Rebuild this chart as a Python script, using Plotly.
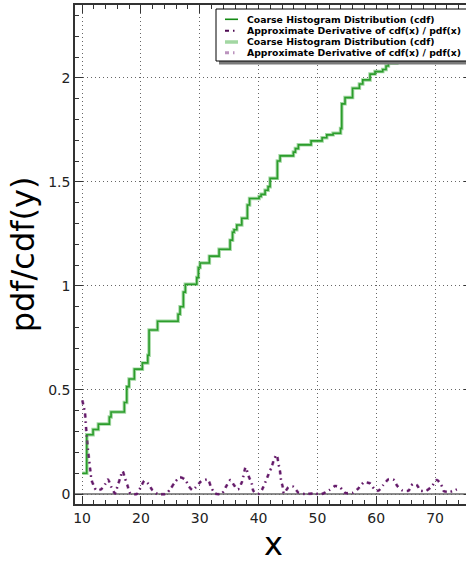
import plotly.graph_objects as go

# ---- data ----
cdf_x = [10.05, 10.80, 11.87, 12.77, 14.64, 14.93, 17.19, 17.60, 17.99, 18.89,
         20.25, 21.17, 21.39, 22.83, 26.32, 26.66, 27.22, 27.56, 29.50, 29.77,
         30.06, 31.64, 33.29, 35.16, 35.58, 35.84, 36.30, 37.15, 38.10, 38.47,
         40.09, 40.43, 41.11, 41.62, 41.96, 43.20, 43.66, 45.92, 46.26, 46.77,
         48.93, 50.80, 51.59, 52.67, 53.94, 54.14, 54.70, 55.98, 57.14, 57.71,
         58.95, 59.80, 61.11, 61.67, 62.07,
         63.5, 65.2, 67.0, 68.8, 70.5, 72.4, 74.0]
cdf_y = [0.10, 0.285, 0.31, 0.336, 0.37, 0.394, 0.44, 0.516, 0.553, 0.60,
         0.63, 0.667, 0.788, 0.83, 0.864, 0.90, 0.97, 1.008, 1.04, 1.088,
         1.11, 1.143, 1.176, 1.22, 1.258, 1.27, 1.293, 1.325, 1.389, 1.42,
         1.43, 1.44, 1.46, 1.477, 1.517, 1.60, 1.625, 1.643, 1.66, 1.678,
         1.697, 1.712, 1.726, 1.734, 1.757, 1.875, 1.905, 1.95, 1.97, 1.99,
         2.018, 2.03, 2.04, 2.057, 2.07,
         2.10, 2.13, 2.16, 2.19, 2.22, 2.25, 2.28]

pdf_x = [10.05, 10.2, 10.5, 10.6, 10.8, 11.07, 11.36, 11.53, 11.64, 12.0,
         12.38, 13.2, 13.9, 14.4, 15.0, 15.6, 16.0, 16.46, 16.9, 17.3,
         17.7, 18.2, 19.3, 20.0, 20.6, 21.3, 21.95, 22.8, 24.2, 25.1,
         25.7, 26.6, 27.5, 28.2, 28.75, 29.3, 30.2, 31.4, 31.9, 32.6,
         33.7, 34.4, 35.2, 35.7, 36.5, 37.2, 37.8, 38.3, 38.85, 39.1,
         39.9, 40.6, 41.2, 41.7, 42.24, 42.64, 43.1, 43.37, 43.66, 43.8,
         44.1, 44.3, 45.07, 45.9, 46.8, 47.9, 49.3, 50.7, 52.04, 53.0,
         53.85, 54.7, 56.0, 56.97, 57.9, 58.95, 59.8, 60.4, 61.2, 62.07,
         62.9, 63.6, 64.5, 65.5, 66.2, 66.9, 67.6, 68.5, 69.4, 70.3,
         71.0, 71.5, 72.6, 73.7]
pdf_y = [0.45, 0.43, 0.39, 0.35, 0.275, 0.196, 0.124, 0.083, 0.064, 0.04,
         0.019, 0.022, 0.046, 0.07, 0.032, 0.003, 0.035, 0.075, 0.11, 0.075,
         0.043, 0.003, 0.0, 0.035, 0.064, 0.048, 0.019, 0.001, 0.0, 0.027,
         0.054, 0.08, 0.07, 0.035, 0.019, 0.032, 0.06, 0.07, 0.035, 0.003,
         0.0, 0.032, 0.067, 0.048, 0.022, 0.06, 0.128, 0.087, 0.048, 0.016,
         0.0, 0.022, 0.06, 0.095, 0.131, 0.167, 0.1875, 0.147, 0.107, 0.07,
         0.035, 0.003, 0.032, 0.035, 0.006, 0.0, 0.003, 0.0, 0.019, 0.038,
         0.032, 0.006, 0.006, 0.027, 0.056, 0.051, 0.019, 0.016, 0.043, 0.07,
         0.07, 0.038, 0.016, 0.016, 0.048, 0.043, 0.016, 0.016, 0.035, 0.067,
         0.048, 0.014, 0.011, 0.022]

x_ticks = [10, 20, 30, 40, 50, 60, 70]
y_ticks = [0, 0.5, 1, 1.5, 2]
y_tick_text = ["0", "0.5", "1", "1.5", "2"]

name_cdf = "Coarse Histogram Distribution (cdf)"
name_pdf = "Approximate Derivative of cdf(x) / pdf(x)"
legend_names = [name_cdf, name_pdf, name_cdf, name_pdf]

# styles
DASHDOT = "4px,4px,1.5px,4px"
styles = [
    dict(color="#138a13", width=1.6),
    dict(color="#4e0a52", width=2, dash=DASHDOT),
    dict(color="rgba(70,175,70,0.5)", width=3.5),
    dict(color="rgba(120,40,125,0.5)", width=3, dash=DASHDOT),
]

fig = go.Figure()
fig.add_trace(go.Scatter(x=cdf_x, y=cdf_y, mode="lines", name=name_cdf,
                         line=dict(shape="hv", **styles[0])))
fig.add_trace(go.Scatter(x=pdf_x, y=pdf_y, mode="lines", name=name_pdf,
                         line=dict(shape="spline", smoothing=0.6, **styles[1])))
fig.add_trace(go.Scatter(x=cdf_x, y=cdf_y, mode="lines", name=name_cdf,
                         line=dict(shape="hv", **styles[2])))
fig.add_trace(go.Scatter(x=pdf_x, y=pdf_y, mode="lines", name=name_pdf,
                         line=dict(shape="spline", smoothing=0.6, **styles[3])))

fig.add_shape(type="line", xref="paper", yref="y", x0=0, x1=1, y0=0, y1=0,
              line=dict(color="#8c8c8c", width=2), layer="below")

# ---- legend drawn as a boxed key (matplotlib style, with shadow) ----
# plot area in px; it runs a little past the right edge of the picture
L, T, W, H = 75, 5, 397, 499
def px(xp):
    return (xp - L) / W
def py(yp):
    return 1 - (yp - T) / H

fig.add_shape(type="rect", xref="paper", yref="paper",
              x0=px(219), x1=px(475), y0=py(12.5), y1=py(64.5),
              fillcolor="#7a7a7a", line=dict(width=0), layer="above")
fig.add_shape(type="rect", xref="paper", yref="paper",
              x0=px(216), x1=px(472), y0=py(9), y1=py(61),
              fillcolor="white", line=dict(color="black", width=1), layer="above")
row_y = [19.3, 30.7, 42.0, 52.7]
for name, st, ry in zip(legend_names, styles, row_y):
    fig.add_shape(type="line", xref="paper", yref="paper",
                  x0=px(225), x1=px(238), y0=py(ry), y1=py(ry),
                  line=st, layer="above")
    fig.add_annotation(xref="paper", yref="paper", x=px(245), y=py(ry),
                       xanchor="left", yanchor="middle", showarrow=False,
                       text="<b>%s</b>" % name,
                       font=dict(family="DejaVu Sans", size=9.3, color="black"))

axis_common = dict(
    showline=True, linecolor="#333333", linewidth=1.5, mirror="ticks",
    ticks="inside", ticklen=8, tickwidth=1, tickcolor="#333333",
    showgrid=True, gridcolor="#666666", griddash="1px,3px", gridwidth=1,
    zeroline=False, automargin=False,
    tickfont=dict(family="DejaVu Sans", size=14, color="#222222"),
)

fig.update_xaxes(range=[8.8, 76.28], tickvals=x_ticks,
                 minor=dict(dtick=2, ticks="inside", ticklen=4, tickcolor="#333333", showgrid=False),
                 title=dict(text="x", font=dict(family="DejaVu Sans", size=32, color="black"), standoff=9),
                 **axis_common)
fig.update_yaxes(range=[-0.048, 2.35], tickvals=y_ticks, ticktext=y_tick_text,
                 minor=dict(dtick=0.1, ticks="inside", ticklen=4, tickcolor="#333333", showgrid=False),
                 title=dict(text="pdf/cdf(y)", font=dict(family="DejaVu Sans", size=32, color="black"), standoff=4),
                 **axis_common)

fig.update_layout(
    width=466 + (L + W - 466), height=563,
    margin=dict(l=L, r=0, t=T, b=563 - T - H),
    paper_bgcolor="white", plot_bgcolor="white",
    showlegend=False,
)

fig.write_html("out.html",
               config={"displayModeBar": False},
               post_script="document.body.style.margin='0';document.body.style.overflow='hidden';")
